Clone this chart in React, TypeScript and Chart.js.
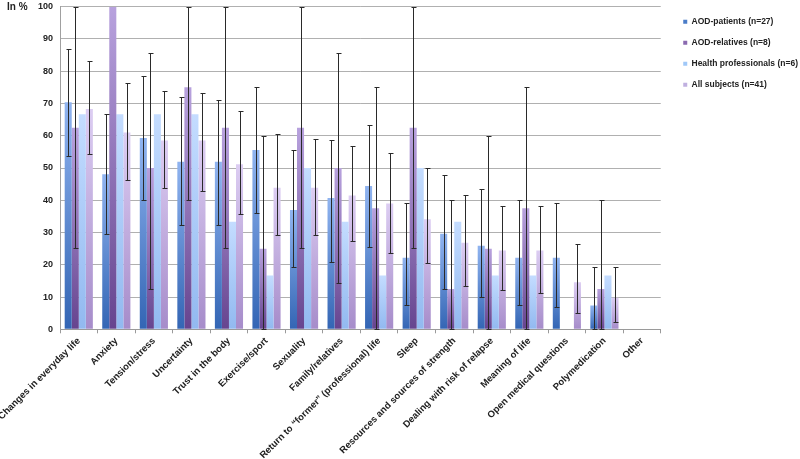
import React, { useEffect, useRef } from 'react';
import { Chart, registerables } from 'chart.js';
Chart.register(...registerables);

const categories = [
  'Changes in everyday life',
  'Anxiety',
  'Tension/stress',
  'Uncertainty',
  'Trust in the body',
  'Exercise/sport',
  'Sexuality',
  'Family/relatives',
  'Return to \u201cformer\u201d (professional) life',
  'Sleep',
  'Resources and sources of strength',
  'Dealing with risk of relapse',
  'Meaning of life',
  'Open medical questions',
  'Polymedication',
  'Other',
];

const seriesNames = [
  'AOD-patients (n=27)',
  'AOD-relatives (n=8)',
  'Health professionals (n=6)',
  'All subjects (n=41)',
];

const patients = [70.4, 48.1, 59.3, 51.9, 51.9, 55.6, 37.0, 40.7, 44.4, 22.2, 29.6, 25.9, 22.2, 22.2, 7.4, 0];
const patientsLow = [53.7, 29.4, 40.0, 32.2, 32.2, 35.9, 19.3, 20.8, 25.6, 7.5, 12.5, 10.0, 7.4, 7.0, 0, null];
const patientsHigh = [86.8, 66.7, 78.4, 72.1, 71.1, 75.0, 55.6, 58.6, 63.2, 39.3, 47.8, 43.4, 40.0, 39.3, 19.3, null];

const relatives = [62.5, 100, 50, 75, 62.5, 25, 62.5, 50, 37.5, 62.5, 12.5, 25, 37.5, 0, 12.5, 0];
const relativesLow = [25.1, null, 12.4, 40.0, 25.1, 0, 25.1, 14.2, 0, 25.1, 0, 0, 0, null, 0, null];
const relativesHigh = [100, null, 85.8, 100, 100, 60.0, 100, 85.8, 75.0, 100, 40.0, 60.0, 75.0, null, 40.0, null];

const professionals = [66.7, 66.7, 66.7, 66.7, 33.3, 16.7, 50, 33.3, 16.7, 50, 33.3, 16.7, 16.7, 0, 16.7, 0];

const allSubjects = [68.3, 61.0, 58.5, 58.5, 51.2, 43.9, 43.9, 41.5, 39.0, 34.1, 26.8, 24.4, 24.4, 14.6, 9.8, 0];
const allLow = [54.3, 46.2, 43.8, 42.9, 35.8, 29.3, 29.3, 27.3, 23.6, 20.5, 13.5, 12.1, 11.2, 4.9, 2.3, null];
const allHigh = [83.1, 76.2, 73.9, 73.1, 67.6, 60.4, 59.1, 56.8, 54.8, 49.9, 41.5, 38.1, 38.1, 26.5, 19.3, null];

const FONT = "'Liberation Sans', Arial, sans-serif";

function gradientFill(top: string, bottom: string, solid: string) {
  return (ctx: any) => {
    const chart = ctx.chart;
    if (ctx.type !== 'data' || !chart.chartArea) return solid;
    const y = chart.scales.y;
    const v = typeof ctx.raw === 'number' ? ctx.raw : 0;
    const y0 = y.getPixelForValue(0);
    const y1 = y.getPixelForValue(v);
    if (!isFinite(y0) || !isFinite(y1) || Math.abs(y0 - y1) < 1) return solid;
    const g = chart.ctx.createLinearGradient(0, y1, 0, y0);
    g.addColorStop(0, top);
    g.addColorStop(1, bottom);
    return g;
  };
}

const errorBarPlugin = {
  id: 'errorBars',
  afterDatasetsDraw(chart: any) {
    const ctx = chart.ctx;
    const yScale = chart.scales.y;
    ctx.save();
    ctx.strokeStyle = '#2a2a2a';
    ctx.lineWidth = 1;
    chart.data.datasets.forEach((ds: any, i: number) => {
      if (!ds.errLow) return;
      const meta = chart.getDatasetMeta(i);
      meta.data.forEach((bar: any, j: number) => {
        const lo = ds.errLow[j];
        const hi = ds.errHigh[j];
        if (lo == null || hi == null) return;
        const x = Math.round(bar.x) + 0.5;
        const yl = Math.round(yScale.getPixelForValue(lo)) + 0.5;
        const yh = Math.round(yScale.getPixelForValue(hi)) + 0.5;
        ctx.beginPath();
        ctx.moveTo(x, yl);
        ctx.lineTo(x, yh);
        ctx.moveTo(x - 2, yh);
        ctx.lineTo(x + 3, yh);
        ctx.moveTo(x - 2, yl);
        ctx.lineTo(x + 3, yl);
        ctx.stroke();
      });
    });
    ctx.restore();
  },
};

const extrasPlugin = {
  id: 'extras',
  afterLayout(chart: any) {
    const l = chart.legend;
    if (l) {
      l.left += 10;
      l.right += 10;
      l.top += 5;
      l.bottom += 5;
    }
  },
  afterDraw(chart: any) {
    const ctx = chart.ctx;
    const y = chart.scales.y.getPixelForValue(100);
    ctx.save();
    ctx.font = `bold 10px ${FONT}`;
    ctx.fillStyle = '#222';
    ctx.textAlign = 'left';
    ctx.textBaseline = 'middle';
    ctx.fillText('In %', 7, y + 1);
    ctx.restore();
  },
};

export default function App() {
  const canvasRef = useRef<HTMLCanvasElement | null>(null);

  useEffect(() => {
    if (!canvasRef.current) return;
    const chart = new Chart(canvasRef.current, {
      type: 'bar',
      data: {
        labels: categories,
        datasets: [
          {
            label: seriesNames[0],
            data: patients,
            backgroundColor: gradientFill('#90b4f0', '#3365b4', '#4a7cc8'),
            errLow: patientsLow,
            errHigh: patientsHigh,
          } as any,
          {
            label: seriesNames[1],
            data: relatives,
            backgroundColor: gradientFill('#b8a2de', '#66448f', '#8a6ab0'),
            errLow: relativesLow,
            errHigh: relativesHigh,
          } as any,
          {
            label: seriesNames[2],
            data: professionals,
            backgroundColor: gradientFill('#c4dcff', '#92b9f0', '#a0c8f8'),
          } as any,
          {
            label: seriesNames[3],
            data: allSubjects,
            backgroundColor: gradientFill('#dccdf2', '#a68cca', '#c0b0e0'),
            errLow: allLow,
            errHigh: allHigh,
          } as any,
        ],
      },
      options: {
        animation: false,
        responsive: true,
        maintainAspectRatio: false,
        layout: { padding: { top: 0, right: 2, left: 0, bottom: 0 } },
        datasets: {
          bar: { categoryPercentage: 0.75, barPercentage: 1 },
        },
        plugins: {
          tooltip: { enabled: false },
          legend: {
            position: 'right',
            align: 'start',
            labels: {
              boxWidth: 4,
              boxHeight: 4,
              padding: 12.5,
              color: '#222',
              font: { family: FONT, size: 8.5, weight: 'bold' },
              generateLabels: (chart: any) =>
                ['#4a7cc8', '#8a6ab0', '#a0c8f8', '#c0b0e0'].map((c, i) => ({
                  text: chart.data.datasets[i].label,
                  fillStyle: c,
                  strokeStyle: c,
                  lineWidth: 0,
                  hidden: false,
                  datasetIndex: i,
                  fontColor: '#222',
                })),
            },
          },
        },
        scales: {
          x: {
            grid: {
              display: true,
              drawOnChartArea: false,
              drawTicks: true,
              tickLength: 4,
              color: '#9a9a9a',
              offset: true,
            },
            border: { display: true, color: '#9a9a9a' },
            ticks: {
              autoSkip: false,
              minRotation: 45,
              maxRotation: 45,
              padding: 2,
              color: '#222',
              font: { family: FONT, size: 9.5, weight: 'bold' },
            },
            afterFit: (s: any) => {
              s.height = 129.7;
              s.paddingLeft = 0;
              s.paddingRight = 0;
            },
          } as any,
          y: {
            min: 0,
            max: 100,
            ticks: {
              stepSize: 10,
              padding: 7,
              color: '#222',
              font: { family: FONT, size: 9, weight: 'bold' },
            },
            grid: { color: '#b0b0b0', drawTicks: false },
            border: { display: true, color: '#a0a0a0' },
            afterFit: (s: any) => {
              s.width = 60;
              s.paddingTop = 6.7;
              s.paddingBottom = 0;
            },
          } as any,
        },
      },
      plugins: [errorBarPlugin, extrasPlugin],
    });
    return () => chart.destroy();
  }, []);

  return (
    <div style={{ position: 'absolute', left: 0, top: 0, width: 800, height: 459, background: '#fff' }}>
      <canvas ref={canvasRef} />
    </div>
  );
}
